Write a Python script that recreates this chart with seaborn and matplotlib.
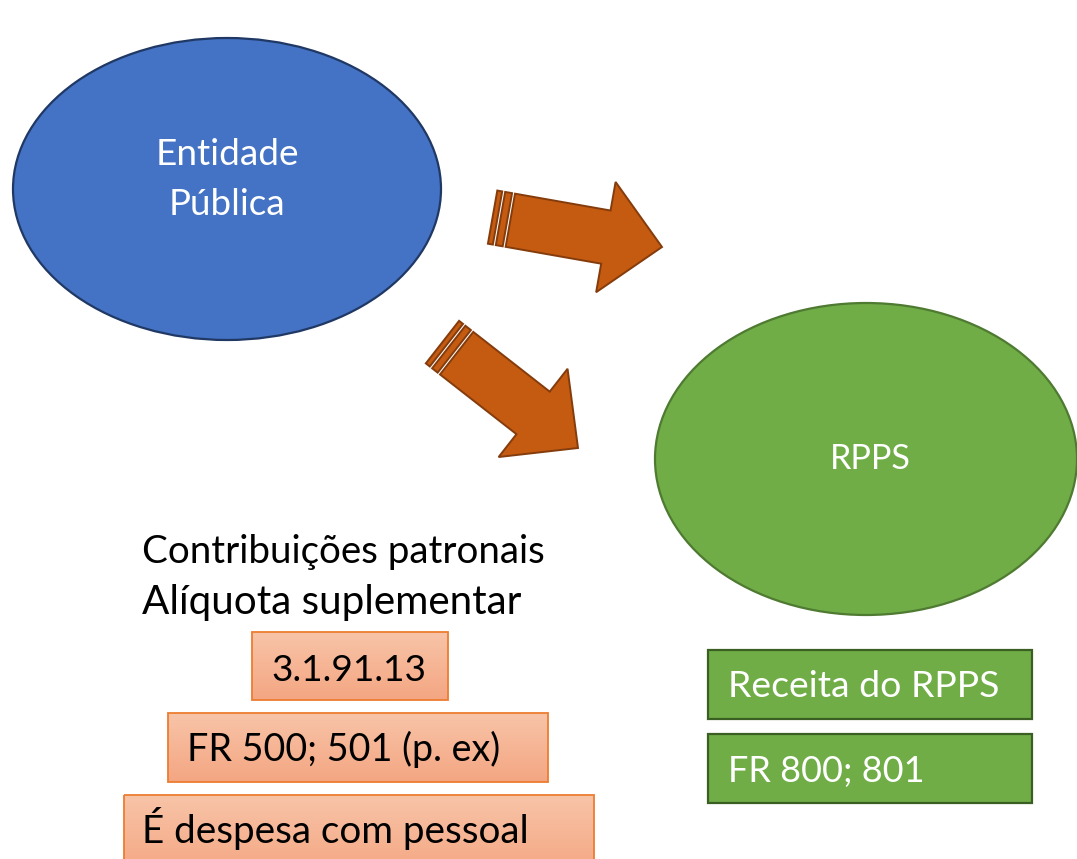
import numpy as np
import matplotlib
matplotlib.use("Agg")
import matplotlib.pyplot as plt
import seaborn as sns
from matplotlib.patches import Ellipse, Rectangle, Polygon

sns.set_theme(style="white")
plt.rcParams['font.family'] = ['Lato', 'DejaVu Sans']

# ---- content ----
node_labels = ["Entidade\nPública", "RPPS"]
info_lines = ["Contribuições patronais", "Alíquota suplementar"]
expense_boxes = ["3.1.91.13", "FR 500; 501 (p. ex)", "É despesa com pessoal"]
revenue_boxes = ["Receita do RPPS", "FR 800; 801"]

# ---- colours ----
BLUE, BLUE_EDGE = "#4472C4", "#203864"
GREEN, GREEN_EDGE = "#70AD47", "#4E7A31"
GREEN_BOX_EDGE = "#3A5F22"
ARROW, ARROW_EDGE = "#C55A11", "#843C0C"
PEACH_TOP, PEACH_BOT, PEACH_EDGE = (248/255, 196/255, 168/255), (244/255, 166/255, 130/255), "#ED7D31"

W, H = 1077, 859
fig = plt.figure(figsize=(W / 100, H / 100), dpi=100)
ax = fig.add_axes([0, 0, 1, 1])
ax.set_xlim(0, W)
ax.set_ylim(H, 0)
ax.axis("off")
renderer = fig.canvas.get_renderer()


def fit_text(x, y, s, width, color="black", ha="left"):
    t = ax.text(x, y, s, ha=ha, va="baseline", fontsize=20, color=color, zorder=10)
    bw = t.get_window_extent(renderer).width
    t.set_fontsize(20 * width / bw)
    return t


# ---- ellipses ----
ax.add_patch(Ellipse((227, 189), 428, 302, facecolor=BLUE, edgecolor=BLUE_EDGE, lw=1.6, zorder=2))
ax.add_patch(Ellipse((866, 459), 422, 312, facecolor=GREEN, edgecolor=GREEN_EDGE, lw=1.6, zorder=2))

ent1, ent2 = node_labels[0].split("\n")
fit_text(227, 165, ent1, 144, color="white", ha="center")
fit_text(227, 215, ent2, 117, color="white", ha="center")
fit_text(870, 469, node_labels[1], 81, color="white", ha="center")


# ---- striped arrows ----
def striped_arrow(tip, angle_deg):
    th = np.deg2rad(angle_deg)
    c, s = np.cos(th), np.sin(th)
    L = 172
    w, hw = 27, 56
    shapes = [
        [(0, -w), (5, -w), (5, w), (0, w)],
        [(8, -w), (15, -w), (15, w), (8, w)],
        [(18, -w), (115, -w), (115, -hw), (L, 0), (115, hw), (115, w), (18, w)],
    ]
    for pts in shapes:
        pts = np.array(pts, dtype=float)
        pts[:, 0] -= L
        xs = tip[0] + pts[:, 0] * c - pts[:, 1] * s
        ys = tip[1] + pts[:, 0] * s + pts[:, 1] * c
        ax.add_patch(Polygon(np.column_stack([xs, ys]), closed=True, facecolor=ARROW,
                             edgecolor=ARROW_EDGE, lw=1.4, joinstyle="miter", zorder=3))


striped_arrow((662, 247), 10)
striped_arrow((578, 448), 38)

# ---- left text ----
fit_text(142, 563, info_lines[0], 403)
fit_text(142, 614, info_lines[1], 381)

# ---- peach gradient boxes ----
grad = np.linspace(0, 1, 64)[:, None, None]
grad_img = (1 - grad) * np.array(PEACH_TOP)[None, None, :] + grad * np.array(PEACH_BOT)[None, None, :]
peach_rects = [(252, 632, 196, 68), (168, 713, 380, 69), (124, 795, 470, 80)]
for (x0, y0, bw, bh) in peach_rects:
    r = Rectangle((x0, y0), bw, bh, facecolor="none", edgecolor=PEACH_EDGE, lw=1.3, zorder=5)
    ax.add_patch(r)
    im = ax.imshow(np.repeat(grad_img, 2, axis=1), extent=(x0, x0 + bw, y0 + bh, y0),
                   origin="upper", aspect="auto", zorder=4, interpolation="bilinear")
    im.set_clip_path(r)

fit_text(349, 681, expense_boxes[0], 155, ha="center")
fit_text(187, 761, expense_boxes[1], 313)
fit_text(142, 843, expense_boxes[2], 386)

# ---- green boxes ----
green_rects = [(708, 650, 324, 69), (708, 734, 324, 69)]
for (x0, y0, bw, bh) in green_rects:
    ax.add_patch(Rectangle((x0, y0), bw, bh, facecolor=GREEN, edgecolor=GREEN_BOX_EDGE, lw=1.6, zorder=4))
fit_text(728, 697, revenue_boxes[0], 272, color="white")
fit_text(728, 782, revenue_boxes[1], 197, color="white")

ax.set_xlim(0, W)
ax.set_ylim(H, 0)
fig.savefig("out.png", dpi=100)
